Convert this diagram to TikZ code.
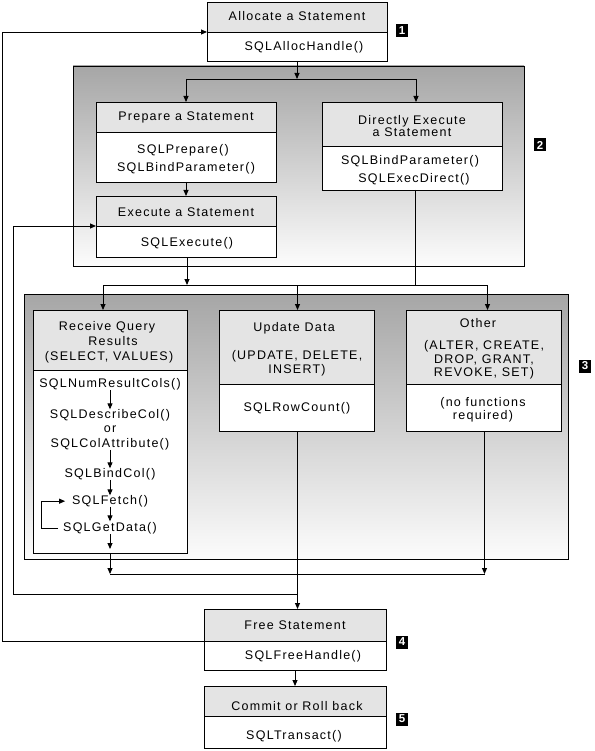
\documentclass[tikz,border=0pt]{standalone}
\usepackage{fontspec}
\setmainfont{Liberation Sans}[LetterSpace=10]
\usetikzlibrary{arrows.meta}
\definecolor{hdr}{RGB}{228,228,228}
\definecolor{gtop}{RGB}{166,166,166}
\definecolor{gbot}{RGB}{252,252,252}
\tikzset{
  lw/.style={line width=0.9pt},
  hd/.style={lw, draw, fill=hdr, anchor=north west, inner sep=0pt, outer sep=0pt},
  bd/.style={lw, draw, fill=white, anchor=north west, inner sep=0pt, outer sep=0pt},
  region/.style={lw, draw, top color=gtop, bottom color=gbot, anchor=north west, inner sep=0pt, outer sep=0pt},
  lbl/.style={inner sep=0pt, outer sep=0pt, anchor=base, font=\fontsize{12.5}{14}\selectfont},
  con/.style={lw},
  arr/.style={lw, -{Triangle[length=6pt,width=5pt]}},
  badge/.style={fill=black, text=white, inner sep=0pt, minimum width=12pt, minimum height=13pt, font=\fontsize{11.5}{13}\selectfont\bfseries}
}
\newcommand\txtln[4]{\node[lbl] (#1) at (#2,#3+4.4) {#4};}
\newcommand\mkbox[6]{%
  \node[hd, minimum width=#4, minimum height=#5] (#1H) at (#2,#3) {};
  \node[bd, minimum width=#4, minimum height=#6] (#1B) at (#2,#3+#5) {};}
\begin{document}
\begin{tikzpicture}[x=1pt,y=-1pt]
\useasboundingbox (0,0) rectangle (594,751);
% regions
\node[region, minimum width=451, minimum height=200] (r2) at (73,66) {};
\node[region, minimum width=544, minimum height=265] (r3) at (24,294) {};
% boxes
\mkbox{alloc}{207}{2}{180}{30}{29}
\mkbox{prep}{96}{102}{180}{30}{50}
\mkbox{exec}{96}{196}{180}{30}{31}
\mkbox{dir}{322}{102}{180}{44}{44}
\mkbox{recv}{33}{310}{154}{60}{183}
\mkbox{upd}{219}{310}{155}{74}{47}
\mkbox{oth}{406}{310}{155}{74}{47}
\mkbox{free}{204}{609}{182}{32}{29}
\mkbox{cmt}{204}{686}{182}{30}{32}
% texts
\txtln{tA}{297}{16}{Allocate a Statement}
\txtln{tA2}{304}{46}{SQLAllocHandle()}
\txtln{tP}{186}{116}{Prepare a Statement}
\txtln{tP2}{183}{149}{SQLPrepare()}
\txtln{tP3}{186}{167}{SQLBindParameter()}
\txtln{tE}{186}{212}{Execute a Statement}
\txtln{tE2}{187}{242}{SQLExecute()}
\txtln{tD}{412}{120}{Directly Execute}
\txtln{tD2}{412}{132}{a Statement}
\txtln{tD3}{410}{160}{SQLBindParameter()}
\txtln{tD4}{414}{178}{SQLExecDirect()}
\txtln{tR1}{107}{326}{Receive Query}
\txtln{tR2}{113}{341}{Results}
\txtln{tR3}{109}{356}{(SELECT, VALUES)}
\txtln{numres}{110}{383}{SQLNumResultCols()}
\txtln{describe}{110}{414}{SQLDescribeCol()}
\txtln{orw}{110}{428}{or}
\txtln{colattr}{110}{443}{SQLColAttribute()}
\txtln{bindcol}{110}{473}{SQLBindCol()}
\txtln{fetch}{110}{500}{SQLFetch()}
\txtln{getdata}{110}{527}{SQLGetData()}
\txtln{tU1}{294}{327}{Update Data}
\txtln{tU2}{297}{355}{(UPDATE, DELETE,}
\txtln{tU3}{297}{369}{INSERT)}
\txtln{tU4}{297}{407}{SQLRowCount()}
\txtln{tO1}{478}{323}{Other}
\txtln{tO2}{484}{345}{(ALTER, CREATE,}
\txtln{tO3}{484}{359}{DROP, GRANT,}
\txtln{tO4}{484}{372}{REVOKE, SET)}
\txtln{tO5}{483}{402}{(no functions}
\txtln{tO6}{483}{415}{required)}
\txtln{tF1}{295}{625}{Free Statement}
\txtln{tF2}{303}{655}{SQLFreeHandle()}
\txtln{tC1}{297}{706}{Commit or Roll back}
\txtln{tC2}{294}{735}{SQLTransact()}
% badges
\node[badge] (b1) at (402,31) {1};
\node[badge] (b2) at (540,145) {2};
\node[badge] (b3) at (585,366) {3};
\node[badge] (b4) at (402,642) {4};
\node[badge] (b5) at (402,719) {5};
% connectors, region 2
\coordinate (sp2) at (297,79);
\draw[arr] (allocB.south) -- (allocB.south |- sp2);
\draw[con] (prepH.north |- sp2) -- ([xshift=4pt]dirH.north |- sp2);
\draw[arr] (prepH.north |- sp2) -- (prepH.north);
\draw[arr] ([xshift=4pt]dirH.north |- sp2) -- ([xshift=4pt]dirH.north);
\draw[arr] (prepB.south) -- (execH.north);
% to region 3
\coordinate (d3) at (0,285);
\draw[arr] ([xshift=1pt]execB.south) -- ([xshift=1pt]execB.south |- d3);
\draw[con] ([xshift=3pt]dirB.south) -- ([xshift=3pt]dirB.south |- d3);
\draw[con] ([xshift=-7pt]recvH.north |- d3) -- ([xshift=4pt]othH.north |- d3);
\draw[arr] ([xshift=-7pt]recvH.north |- d3) -- ([xshift=-7pt]recvH.north);
\draw[arr] ([xshift=1pt]updH.north |- d3) -- ([xshift=1pt]updH.north);
\draw[arr] ([xshift=4pt]othH.north |- d3) -- ([xshift=4pt]othH.north);
% inside receive
\draw[arr] (numres.south) -- (numres.south |- describe.north);
\draw[arr] (colattr.south) -- (colattr.south |- bindcol.north);
\draw[arr] (bindcol.south) -- (bindcol.south |- fetch.north);
\draw[arr, shorten >=1pt] (fetch.south) -- (fetch.south |- getdata.north);
\draw[arr] ([xshift=-5pt]getdata.west) -| ([xshift=-22pt]getdata.west |- fetch.west) -- ([xshift=-7pt]fetch.west);
\draw[arr] (getdata.south) -- ([yshift=4pt]recvB.south);
% merge
\coordinate (m3) at (0,574);
\draw[con] (recvB.south |- m3) -- ([xshift=1pt]othB.south |- m3);
\draw[arr] (recvB.south) -- (recvB.south |- m3);
\draw[arr] ([xshift=1pt]othB.south) -- ([xshift=1pt]othB.south |- m3);
\draw[arr] ([xshift=1pt]updB.south) -- ([xshift=1pt]updB.south |- freeH.north);
% loops
\coordinate (jn) at (297.5,594);
\coordinate (lp) at (13,594);
\draw[arr] (jn) -- (lp) |- (execB.north west);
\coordinate (op) at (2,641);
\draw[arr] (freeB.north west) -- (op) |- (allocB.north west);
% final
\draw[arr] (freeB.south) -- (cmtH.north);
\end{tikzpicture}
\end{document}
